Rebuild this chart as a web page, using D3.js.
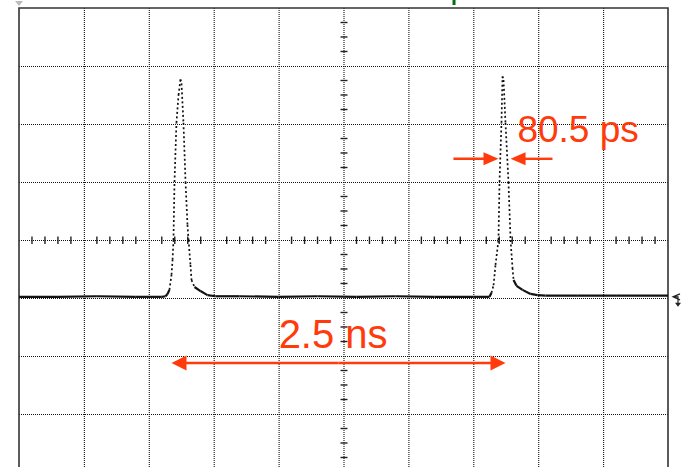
<!DOCTYPE html>
<html>
<head>
<meta charset="utf-8">
<script src="https://cdn.jsdelivr.net/npm/d3@7"></script>
<style>
  html, body { margin: 0; padding: 0; background: #fff; }
  svg { display: block; }
</style>
</head>
<body>
<svg id="scope" width="681" height="467"></svg>
<script>
// Horizontal axis: time in picoseconds (500 ps per division, 10 divisions)
const timeTicks = [-2500, -2000, -1500, -1000, -500, 0, 500, 1000, 1500, 2000, 2500];
// Vertical axis: amplitude in divisions (8 divisions, centre at 0)
const voltTicks = [-4, -3, -2, -1, 0, 1, 2, 3, 4];

// Captured waveform: two short optical pulses on a flat baseline
const timePs = [
  -2500, -2200, -1900, -1600, -1400, -1371, -1356, -1341, -1325, -1317, -1310, -1302,
  -1287, -1271, -1256, -1248, -1233, -1217, -1202, -1194, -1179, -1171, -1148,
  -1102, -1048, -986, -800, -500, -200, 100, 400, 700, 1000, 1125, 1140, 1156,
  1171, 1194, 1202, 1217, 1225, 1233, 1248, 1271, 1287, 1302, 1310, 1333, 1379,
  1441, 1495, 1556, 1800, 2100, 2500
];
const voltDiv = [
  -0.98, -0.98, -0.97, -0.98, -0.98, -0.97, -0.93, -0.86, -0.6, -0.34, 0, 1.0,
  2.02, 2.5, 2.77, 2.7, 2.02, 1.0, 0.26, 0, -0.43, -0.69, -0.81,
  -0.88, -0.95, -0.97, -0.97, -0.98, -0.97, -0.98, -0.97, -0.98, -0.98, -0.98, -0.91, -0.78,
  -0.43, 0, 1.0, 2.02, 2.82, 2.76, 2.02, 1.0, 0, -0.48, -0.69, -0.79, -0.86,
  -0.93, -0.95, -0.96, -0.96, -0.96, -0.96
];

// Annotations
const periodLabel = "2.5 ns";
const periodSpan = [-1325, 1248];   // ps
const periodLevel = -2.12;          // div
const widthLabel = "80.5 ps";
const widthArrowLeft = [847, 1194];  // ps, tail -> tip
const widthArrowRight = [1610, 1287];
const widthLevel = 1.40;

const svg = d3.select("#scope");
const x = d3.scaleLinear().domain([-2500, 2500]).range([19, 668]);
const y = d3.scaleLinear().domain([-4, 4]).range([472, 8]);
const red = "#ff3b0c";

// Dotted graticule
const grid = svg.append("g");
grid.selectAll("line.vx").data(timeTicks.slice(1, -1)).join("line")
  .attr("x1", d => x(d) + 0.5).attr("x2", d => x(d) + 0.5)
  .attr("y1", y(4)).attr("y2", y(-4))
  .attr("stroke", "#111").attr("stroke-width", 1.1).attr("stroke-dasharray", "1,1");
grid.selectAll("line.hy").data(voltTicks.slice(1, -1)).join("line")
  .attr("x1", x(-2500)).attr("x2", x(2500))
  .attr("y1", d => y(d) + 0.5).attr("y2", d => y(d) + 0.5)
  .attr("stroke", "#111").attr("stroke-width", 1.1).attr("stroke-dasharray", "1,1");

// Minor ticks on the centre cross
const minorT = d3.range(-2500, 2501, 100).filter(d => d % 500 !== 0);
grid.selectAll("line.mt").data(minorT).join("line")
  .attr("x1", d => x(d)).attr("x2", d => x(d))
  .attr("y1", y(0) - 3.5).attr("y2", y(0) + 4)
  .attr("stroke", "#222").attr("stroke-width", 1.4);
const minorV = d3.range(-4, 4.01, 0.25).filter(d => Math.abs(d - Math.round(d)) > 1e-6);
grid.selectAll("line.mv").data(minorV).join("line")
  .attr("x1", x(0) - 3).attr("x2", x(0) + 4)
  .attr("y1", d => y(d)).attr("y2", d => y(d))
  .attr("stroke", "#222").attr("stroke-width", 1.4);

// Screen border (bottom edge lies below the window)
svg.append("path")
  .attr("d", `M${x(-2500)},${y(-4)}V${y(4)}H${x(2500)}V${y(-4)}`)
  .attr("fill", "none").attr("stroke", "#333").attr("stroke-width", 1.6);

// Small screen markers
svg.append("path").attr("d", `M${x(-2500) - 4},1 L${x(-2500) + 4},1 L${x(-2500)},6 Z`)
  .attr("fill", "#bbb");
svg.append("rect").attr("x", x(840)).attr("y", 0).attr("width", 3).attr("height", 5)
  .attr("fill", "#0a6b12");
const gy = y(-0.98);
svg.append("path")
  .attr("d", `M${x(2500) + 12},${gy - 3} L${x(2500) + 5},${gy} L${x(2500) + 12},${gy + 3} M${x(2500) + 5},${gy} H${x(2500) + 10} V${gy + 7}`)
  .attr("fill", "none").attr("stroke", "#222").attr("stroke-width", 1.2);
svg.append("path")
  .attr("d", `M${x(2500) + 7},${gy + 6} L${x(2500) + 13},${gy + 6} L${x(2500) + 10},${gy + 10} Z`)
  .attr("fill", "#222");

// Waveform: flat parts solid, steep sampled edges dotted
const pts = timePs.map((t, i) => [x(t), y(voltDiv[i])]);
const trace = svg.append("g");
for (let i = 0; i < pts.length - 1; i++) {
  const [x0, y0] = pts[i], [x1, y1] = pts[i + 1];
  const steep = Math.abs(y1 - y0) > 2.2 * Math.abs(x1 - x0);
  trace.append("line")
    .attr("x1", x0).attr("y1", y0).attr("x2", x1).attr("y2", y1)
    .attr("stroke", "#111")
    .attr("stroke-width", steep ? 1.7 : 2.2)
    .attr("stroke-dasharray", steep ? "2,2.5" : null)
    .attr("stroke-linecap", "butt");
}

// Arrow helper: shaft plus filled head at the tip
function arrow(xTail, xTip, yy, headLen, headHalf, width) {
  const dir = Math.sign(xTip - xTail);
  svg.append("line")
    .attr("x1", xTail).attr("x2", xTip - dir * headLen * 0.8)
    .attr("y1", yy).attr("y2", yy)
    .attr("stroke", red).attr("stroke-width", width);
  svg.append("path")
    .attr("d", `M${xTip},${yy} L${xTip - dir * headLen},${yy - headHalf} L${xTip - dir * headLen},${yy + headHalf} Z`)
    .attr("fill", red);
}

// Period marker
const pyy = y(periodLevel);
const mid = (x(periodSpan[0]) + x(periodSpan[1])) / 2;
arrow(mid, x(periodSpan[0]), pyy, 15, 7.5, 2.6);
arrow(mid, x(periodSpan[1]), pyy, 15, 7.5, 2.6);
svg.append("text")
  .attr("x", x(-80)).attr("y", y(-1.86))
  .attr("text-anchor", "middle")
  .attr("font-family", "Liberation Sans, Arial, sans-serif")
  .attr("font-size", 40)
  .attr("fill", red)
  .text(periodLabel);

// Pulse-width marker
const wyy = y(widthLevel);
arrow(x(widthArrowLeft[0]), x(widthArrowLeft[1]), wyy, 15, 6.5, 2.4);
arrow(x(widthArrowRight[0]), x(widthArrowRight[1]), wyy, 15, 6.5, 2.4);
svg.append("text")
  .attr("x", x(1340)).attr("y", y(1.69))
  .attr("font-family", "Liberation Sans, Arial, sans-serif")
  .attr("font-size", 37)
  .attr("fill", red)
  .text(widthLabel);
</script>
</body>
</html>
